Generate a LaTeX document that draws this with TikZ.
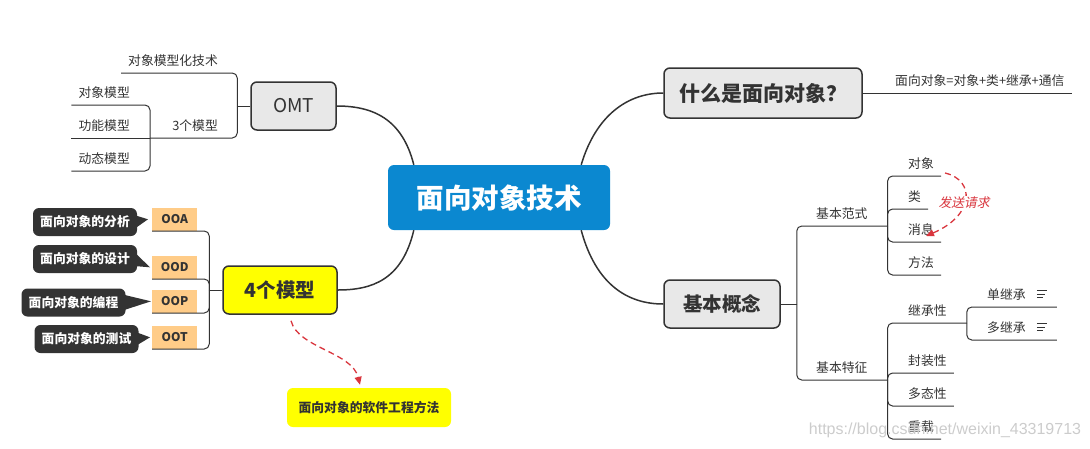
\documentclass[tikz,border=0pt]{standalone}
\usepackage{fontspec}
\setmainfont{Noto Sans CJK SC}
\newfontfamily\slantfont{Noto Sans CJK SC}[FakeSlant=0.2]
\newfontfamily\markfont{Liberation Sans}
\usepackage{xcolor}
\usetikzlibrary{arrows.meta,positioning,calc}
\definecolor{coreBlue}{HTML}{0B88D0}
\definecolor{topicGray}{HTML}{E8E8E8}
\definecolor{ink}{HTML}{333333}
\definecolor{hiYellow}{HTML}{FFFF00}
\definecolor{tagOrange}{HTML}{FFCC88}
\definecolor{noteRed}{HTML}{D9363E}

\begin{document}
\begin{tikzpicture}[x=1pt,y=-1pt,>=Stealth,
  topic/.style={draw=ink,line width=1.5pt,rounded corners=6pt,fill=topicGray,text=ink,inner sep=0pt},
  trunk/.style={draw=ink,line width=1.5pt},
  branch/.style={draw=ink,line width=1pt,rounded corners=5pt},
  leafL/.style={inner xsep=0pt,inner ysep=5pt,text height=10pt,text depth=2.5pt,anchor=south east,text=ink,font=\fontsize{12.8}{14}\selectfont},
  leafR/.style={leafL,anchor=south west},
  tag/.style={fill=tagOrange,text=ink,anchor=south west,inner sep=0pt,minimum width=45pt,minimum height=23pt,font=\fontsize{12}{13}\selectfont\bfseries},
  bubble/.style={fill=ink,text=white,rounded corners=6pt,minimum width=104pt,minimum height=28pt,inner sep=0pt,font=\fontsize{12.8}{14}\selectfont\bfseries},
  relation/.style={draw=noteRed,line width=1.3pt,dash pattern=on 6pt off 4pt,-{Triangle[length=8pt,width=7pt]}},
  memo/.style={draw=ink,line width=0.9pt}]
\useasboundingbox (0,0) rectangle (1090,448);
% main topics
\node[fill=coreBlue,rounded corners=6pt,minimum width=222pt,minimum height=65pt,text=white,font=\fontsize{27.5}{30}\selectfont\bfseries] (core) at (499,197.5) {面向对象技术};
\node[topic,minimum width=85pt,minimum height=48pt,font=\fontsize{19}{21}\selectfont] (omt) at (293.5,106) {OMT};
\node[topic,minimum width=198pt,minimum height=50pt,font=\fontsize{21}{23}\selectfont\bfseries] (what) at (763,93) {什么是面向对象？};
\node[topic,minimum width=116pt,minimum height=48pt,font=\fontsize{19.5}{21}\selectfont\bfseries] (kb) at (722,304) {基本概念};
\node[topic,fill=hiYellow,minimum width=114pt,minimum height=48pt,font=\fontsize{19.5}{21}\selectfont\bfseries] (m4) at (280,290) {4个模型};
\node[fill=hiYellow,rounded corners=6pt,minimum width=164pt,minimum height=39pt,text=ink,font=\fontsize{12.8}{14}\selectfont\bfseries] (soft) at (369,407.5) {面向对象的软件工程方法};
\draw[trunk] ([xshift=26pt]core.north west) .. controls (402,118) and (372,106) .. (omt.east);
\draw[trunk] ([xshift=26pt]core.south west) .. controls (402,280) and (372,290) .. (m4.east);
\draw[trunk] ([xshift=-29pt]core.north east) .. controls (596,115) and (628,93) .. (what.west);
\draw[trunk] ([xshift=-29pt]core.south east) .. controls (596,285) and (628,304) .. (kb.west);
% OMT
\coordinate (jomt) at ([xshift=-13pt]omt.west);
\draw[branch] (omt.west) -- (jomt);
\node[leafL] (tech) at (218,73) {对象模型化技术};
\node[leafL] (m3) at (218,138) {3个模型};
\coordinate (j3) at (150,138);
\draw[branch] ([xshift=-7pt]tech.south west) -| (jomt);
\draw[branch] (j3) -| (jomt);
\node[leafL] (om) at (130,105) {对象模型};
\node[leafL] (fm) at (130,138) {功能模型};
\node[leafL] (dm) at (130,171) {动态模型};
\draw[branch] ([xshift=-7pt]om.south west) -| (j3);
\draw[branch] ([xshift=-7pt]fm.south west) -- (j3);
\draw[branch] ([xshift=-7pt]dm.south west) -| (j3);
% 4 models
\coordinate (j4) at ([xshift=-13pt]m4.west);
\draw[branch] (m4.west) -- (j4);
\node[tag] (ooa) at (152,231) {OOA};
\node[tag] (ood) at (152,279) {OOD};
\node[tag] (oop) at (152,313) {OOP};
\node[tag] (oot) at (152,349) {OOT};
\foreach \n in {ooa,ood,oop,oot} \draw[branch] (\n.south west) -| (j4);
\node[bubble] (bA) at (85,222) {面向对象的分析};
\node[bubble] (bD) at (85,259) {面向对象的设计};
\node[bubble] (bP) at (73.5,302.5) {面向对象的编程};
\node[bubble] (bT) at (86.5,339) {面向对象的测试};
\fill[ink] ([xshift=-3pt,yshift=7pt]bA.east) -- ([xshift=-4pt]ooa.west) -- ([xshift=-3pt,yshift=-7pt]bA.east) -- cycle;
\fill[ink] ([xshift=-3pt,yshift=7pt]bD.east) -- ([xshift=-2pt]ood.west) -- ([xshift=-3pt,yshift=-7pt]bD.east) -- cycle;
\fill[ink] ([xshift=-3pt,yshift=8pt]bP.east) -- ([xshift=-1pt]oop.west) -- ([xshift=-3pt,yshift=-8pt]bP.east) -- cycle;
\fill[ink] ([xshift=-3pt,yshift=7pt]bT.east) -- ([xshift=-2pt]oot.west) -- ([xshift=-3pt,yshift=-7pt]bT.east) -- cycle;
\draw[relation] ($(m4.south)+(11,6)$) .. controls (298,348) and (352,352) .. ($(soft.north)+(-9,-3)$);
% what is OO
\node[leafR] (def) at (895,93) {面向对象=对象+类+继承+通信};
\draw[branch] (what.east) -- ([xshift=7pt]def.south east);
% basic concepts
\coordinate (jkb) at ([xshift=16pt]kb.east);
\draw[branch] (kb.east) -- (jkb);
\node[leafR] (fs) at (816,226) {基本范式};
\node[leafR] (tz) at (816,380) {基本特征};
\coordinate (jfs) at ([xshift=20pt]fs.south east);
\coordinate (jtz) at ([xshift=20pt]tz.south east);
\draw[branch] (jfs) -| (jkb);
\draw[branch] (jtz) -| (jkb);
\node[leafR] (obj) at (908,176) {对象};
\node[leafR] (cls) at (908,209) {类};
\node[leafR] (msg) at (908,242) {消息};
\node[leafR] (mth) at (908,275) {方法};
\foreach \n in {obj,cls,msg,mth} \draw[branch] ([xshift=7pt]\n.south east) -| (jfs);
\draw[relation] ($(obj.south east)+(11,-3)$) .. controls (975,180) and (975,215) .. node[pos=0.55,fill=white,inner sep=1pt,text=noteRed,font=\fontsize{12.8}{14}\selectfont\slantfont] (req) {发送请求} ($(msg.south east)+(-8,-6)$);
\node[leafR] (inh) at (908,323) {继承性};
\node[leafR] (enc) at (908,373) {封装性};
\node[leafR] (pol) at (908,406) {多态性};
\node[leafR] (ovl) at (908,439) {重载};
\coordinate (jinh) at ([xshift=20pt]inh.south east);
\draw[branch] (jinh) -| (jtz);
\foreach \n in {enc,pol,ovl} \draw[branch] ([xshift=7pt]\n.south east) -| (jtz);
\node[leafR] (sgl) at (987,307) {单继承};
\node[leafR] (mul) at (987,340) {多继承};
\foreach \n in {sgl,mul} {
  \draw[branch] ([xshift=31pt]\n.south east) -| (jinh);
  \draw[memo] ([xshift=11pt,yshift=5pt]\n.east) -- ++(10,0);
  \draw[memo] ([xshift=11pt,yshift=1.5pt]\n.east) -- ++(8,0);
  \draw[memo] ([xshift=11pt,yshift=-2pt]\n.east) -- ++(6,0);
}
\node[text=gray!40,font=\fontsize{16}{18}\selectfont\markfont] (mark) at (945,430) {https://blog.csdn.net/weixin\_43319713};
\end{tikzpicture}
\end{document}
